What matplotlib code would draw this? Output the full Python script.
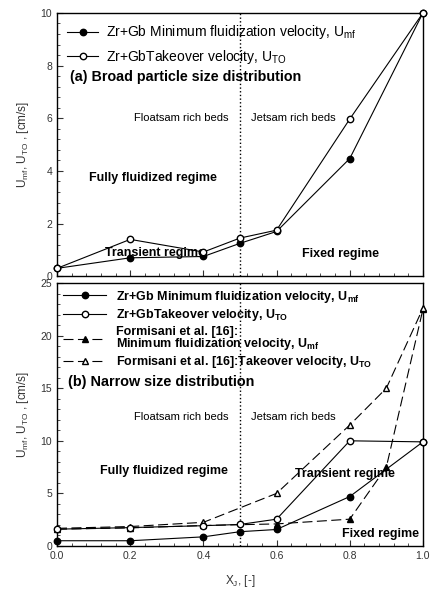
import numpy as np
import matplotlib
matplotlib.use("Agg")
import matplotlib.pyplot as plt
from matplotlib.ticker import MultipleLocator

plt.rcParams["font.family"] = ["Liberation Sans", "DejaVu Sans"]
plt.rcParams["mathtext.fontset"] = "custom"
plt.rcParams["mathtext.rm"] = "Liberation Sans"
plt.rcParams["mathtext.it"] = "Liberation Sans"
plt.rcParams["mathtext.bf"] = "Liberation Sans:bold"

# (a) broad particle size distribution
xa = [0.0, 0.2, 0.4, 0.5, 0.6, 0.8, 1.0]
umf_a = [0.3, 0.7, 0.75, 1.25, 1.7, 4.47, 10.0]
uto_a = [0.3, 1.4, 0.92, 1.45, 1.75, 5.97, 10.0]

# (b) narrow size distribution
xb = [0.0, 0.2, 0.4, 0.5, 0.6, 0.8, 1.0]
umf_b = [0.5, 0.5, 0.87, 1.36, 1.57, 4.7, 9.9]
uto_b = [1.6, 1.75, 1.93, 2.05, 2.55, 10.0, 9.9]
xf = [0.0, 0.2, 0.4, 0.6, 0.8, 0.9, 1.0]
umf_f = [1.6, 1.72, 1.95, 2.1, 2.55, 7.5, 22.5]
uto_f = [1.68, 1.85, 2.25, 5.0, 11.5, 15.0, 22.6]

ylab = r"U$_{mf}$, U$_{TO}$ , [cm/s]"

fig = plt.figure(figsize=(4.32, 5.89), dpi=100)
ax1 = fig.add_axes([0.132, 0.531, 0.847, 0.447])
ax2 = fig.add_axes([0.132, 0.073, 0.847, 0.4465])

lw = 0.8
ms = 4.6
dash = (0, (9, 4))


def style_axes(ax, ymax, ymaj, ymin):
    ax.set_xlim(0, 1)
    ax.set_ylim(0, ymax)
    ax.xaxis.set_major_locator(MultipleLocator(0.2))
    ax.xaxis.set_minor_locator(MultipleLocator(0.04))
    ax.yaxis.set_major_locator(MultipleLocator(ymaj))
    ax.yaxis.set_minor_locator(MultipleLocator(ymin))
    ax.tick_params(which="both", direction="in", top=False, right=False,
                   labelsize=7.5, colors="#333333", labelcolor="#333333")
    ax.tick_params(which="major", length=4)
    ax.tick_params(which="minor", length=2.5)
    for s in ax.spines.values():
        s.set_linewidth(1.0)
    ax.axvline(0.5, color="black", ls=":", lw=1.0)
    ax.set_ylabel(ylab, fontsize=8.5, color="#333333", labelpad=7)


# ---- top panel
style_axes(ax1, 10, 2, 0.4)
ax1.set_xticklabels([])
ax1.plot(xa, umf_a, "-o", color="black", lw=lw, ms=ms, mfc="black",
         clip_on=False, zorder=3,
         label=r"Zr+Gb Minimum fluidization velocity, U$_{mf}$")
ax1.plot(xa, uto_a, "-o", color="black", lw=lw, ms=ms, mfc="white",
         clip_on=False, zorder=4,
         label=r"Zr+GbTakeover velocity, U$_{TO}$")
ax1.legend(loc="upper left", bbox_to_anchor=(0.0, 1.0), frameon=False,
           fontsize=10, handlelength=2.2, handletextpad=0.6,
           labelspacing=0.5, borderaxespad=0.35)
ax1.text(0.035, 0.755, "(a) Broad particle size distribution",
         transform=ax1.transAxes, fontsize=10.3, fontweight="bold",
         va="center")
ax1.text(0.47, 0.6, "Floatsam rich beds", transform=ax1.transAxes,
         fontsize=8, ha="right", va="center")
ax1.text(0.53, 0.6, "Jetsam rich beds", transform=ax1.transAxes,
         fontsize=8, ha="left", va="center")
ax1.text(0.087, 0.375, "Fully fluidized regime", transform=ax1.transAxes,
         fontsize=9, fontweight="bold", va="center")
ax1.text(0.13, 0.09, "Transient regime", transform=ax1.transAxes,
         fontsize=9, fontweight="bold", va="center")
ax1.text(0.67, 0.085, "Fixed regime", transform=ax1.transAxes,
         fontsize=9, fontweight="bold", va="center")

# ---- bottom panel
style_axes(ax2, 25, 5, 1)
ax2.plot(xb, umf_b, "-o", color="black", lw=lw, ms=ms, mfc="black",
         clip_on=False, zorder=4,
         label=r"Zr+Gb Minimum fluidization velocity, U$_{\mathbf{mf}}$")
ax2.plot(xb, uto_b, "-o", color="black", lw=lw, ms=ms, mfc="white",
         clip_on=False, zorder=4,
         label=r"Zr+GbTakeover velocity, U$_{\mathbf{TO}}$")
ax2.plot(xf, umf_f, "^", ls=dash, color="black", lw=lw, ms=ms,
         mfc="black", clip_on=False, zorder=3,
         label="Formisani et al. [16]:\n"
               r"Minimum fluidization velocity, U$_{\mathbf{mf}}$")
ax2.plot(xf, uto_f, "^", ls=dash, color="black", lw=lw, ms=ms,
         mfc="white", clip_on=False, zorder=3,
         label=r"Formisani et al. [16]:Takeover velocity, U$_{\mathbf{TO}}$")
leg2 = ax2.legend(loc="upper left", bbox_to_anchor=(0.0, 1.0),
                  frameon=False, prop={"size": 9, "weight": "bold"},
                  handlelength=3.5, handletextpad=0.8, labelspacing=0.2,
                  borderaxespad=0.05)
leg2.get_texts()[2].set_linespacing(0.85)
ax2.text(0.03, 0.625, "(b) Narrow size distribution",
         transform=ax2.transAxes, fontsize=10.4, fontweight="bold",
         va="center")
ax2.text(0.47, 0.49, "Floatsam rich beds", transform=ax2.transAxes,
         fontsize=8, ha="right", va="center")
ax2.text(0.53, 0.49, "Jetsam rich beds", transform=ax2.transAxes,
         fontsize=8, ha="left", va="center")
ax2.text(0.117, 0.285, "Fully fluidized regime", transform=ax2.transAxes,
         fontsize=9, fontweight="bold", va="center")
ax2.text(0.65, 0.273, "Transient regime", transform=ax2.transAxes,
         fontsize=9, fontweight="bold", va="center")
ax2.text(0.78, 0.045, "Fixed regime", transform=ax2.transAxes,
         fontsize=9, fontweight="bold", va="center")
ax2.set_xlabel(r"X$_{J}$, [-]", fontsize=8.5, color="#333333", labelpad=9)

fig.savefig("out.png", dpi=100)
